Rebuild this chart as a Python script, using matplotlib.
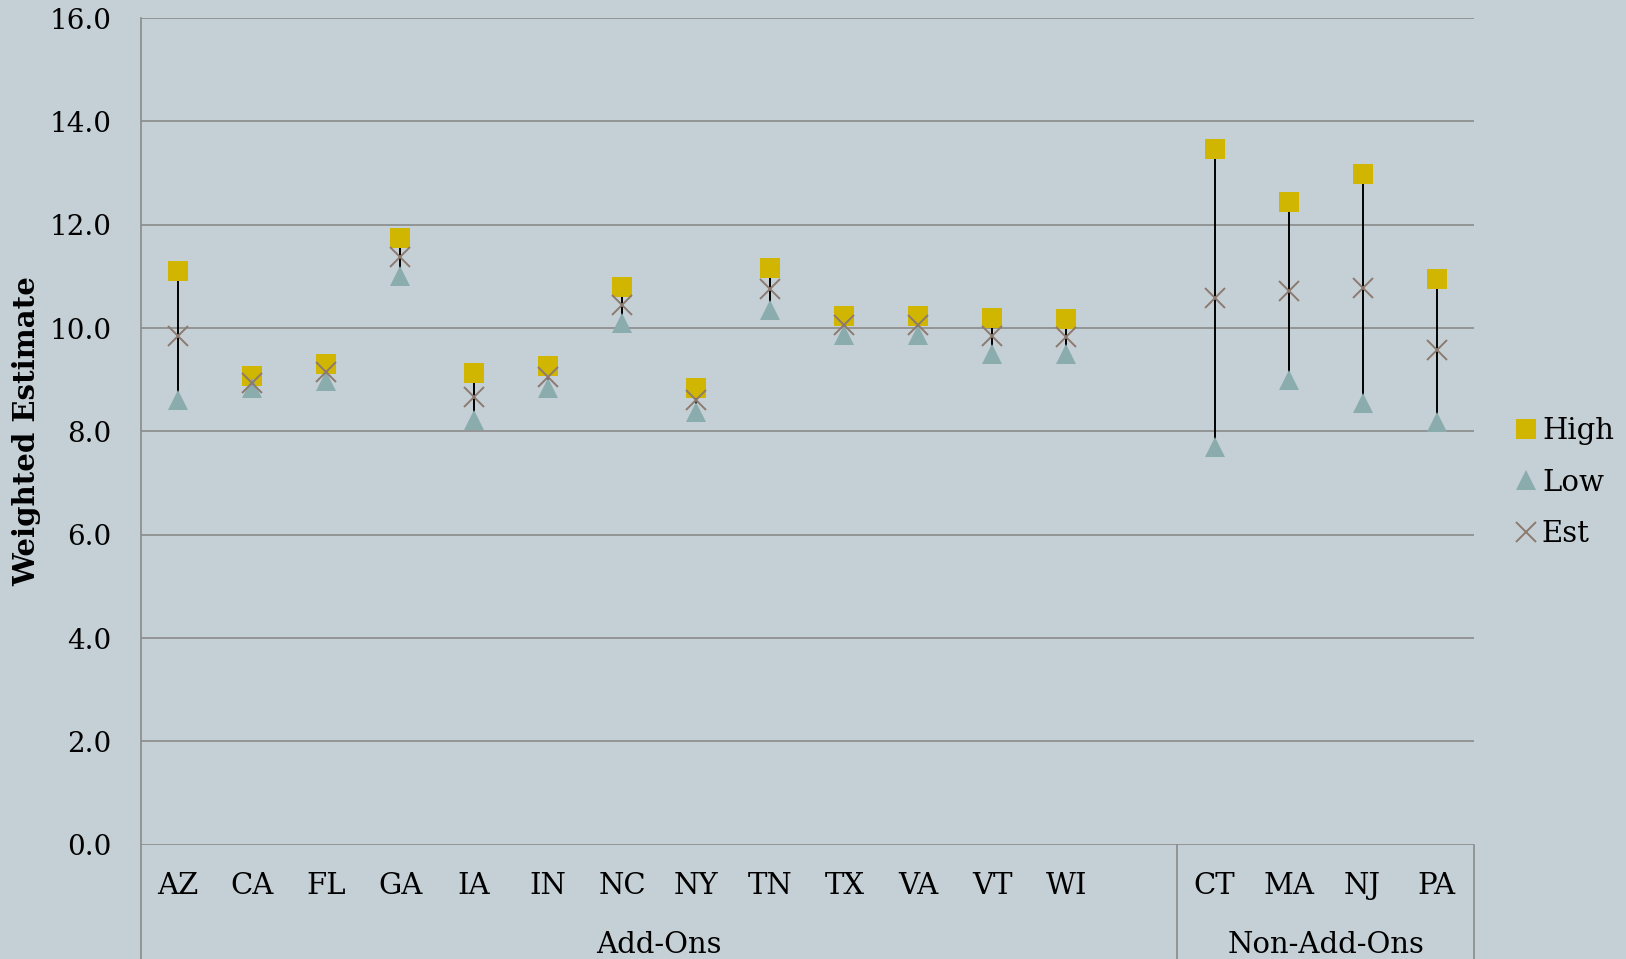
import matplotlib
matplotlib.use("Agg")
import matplotlib.pyplot as plt
import matplotlib.transforms as mtransforms
import numpy as np

# datos
estados_add = ["AZ", "CA", "FL", "GA", "IA", "IN", "NC", "NY", "TN", "TX", "VA", "VT", "WI"]
estados_non = ["CT", "MA", "NJ", "PA"]

high_add = [11.10, 9.07, 9.31, 11.74, 9.12, 9.26, 10.80, 8.84, 11.16, 10.24, 10.23, 10.19, 10.17]
low_add = [8.61, 8.83, 8.98, 11.00, 8.22, 8.83, 10.09, 8.37, 10.35, 9.86, 9.87, 9.49, 9.49]
est_add = [9.85, 8.94, 9.15, 11.38, 8.67, 9.06, 10.45, 8.61, 10.75, 10.06, 10.06, 9.85, 9.83]

high_non = [13.47, 12.44, 12.98, 10.94]
low_non = [7.69, 8.99, 8.55, 8.19]
est_non = [10.59, 10.72, 10.78, 9.57]

grupos = ["Add-Ons", "Non-Add-Ons"]
yticks = np.arange(0, 16.1, 2)

BG = "#c5d0d6"
GRID = "#8a8a8a"
C_HIGH = "#d0b600"
C_LOW = "#8aacad"
C_EST = "#8c7a70"
FS = 21

plt.rcParams["font.family"] = ["DejaVu Serif"]

# posiciones: 13 add-ons + hueco vacío + 4 non-add-ons
n_add = len(estados_add)
x_add = np.arange(n_add)
x_non = np.arange(len(estados_non)) + n_add + 1
x_all = np.concatenate([x_add, x_non])
etiquetas = estados_add + estados_non
high = np.array(high_add + high_non)
low = np.array(low_add + low_non)
est = np.array(est_add + est_non)

fig = plt.figure(figsize=(16.26, 9.59), dpi=100)
fig.patch.set_facecolor(BG)
ax = fig.add_axes([0.0867, 0.1192, 0.8196, 0.8620])
ax.set_facecolor(BG)

ax.vlines(x_all, low, high, color="black", linewidth=1.4, zorder=2)
ax.plot(x_all, high, linestyle="none", marker="s", markersize=14.9,
        color=C_HIGH, markeredgewidth=0, label="High", zorder=3)
ax.plot(x_all, low, linestyle="none", marker="^", markersize=14.6,
        color=C_LOW, markeredgewidth=0, label="Low", zorder=4)
ax.plot(x_all, est, linestyle="none", marker="x", markersize=14.0,
        color=C_EST, markeredgewidth=1.4, label="Est", zorder=5)

n_slots = len(x_all) + 1
ax.set_xlim(-0.5, n_slots - 0.5)
ax.set_ylim(0, 16)
ax.set_yticks(yticks)
ax.set_yticklabels([f"{v:.1f}" for v in yticks], fontsize=20)
ax.set_xticks(x_all)
ax.set_xticklabels(etiquetas, fontsize=FS)
ax.tick_params(axis="x", length=0, pad=20)
ax.tick_params(axis="y", length=0, pad=21)

ax.grid(axis="y", color=GRID, linewidth=1.2)
ax.set_axisbelow(True)
for s in ["top", "right", "bottom", "left"]:
    ax.spines[s].set_visible(False)

ax.set_ylabel("Weighted Estimate", fontsize=21, fontweight="bold")
ax.yaxis.set_label_coords(-0.075, 0.5)

# líneas de separación de la categoría multinivel
trans = mtransforms.blended_transform_factory(ax.transData, ax.transAxes)
sep = n_add + 0.5
ax.plot([-0.5, -0.5], [1, -0.2], transform=trans, color=GRID, linewidth=1.2, clip_on=False)
ax.plot([sep, sep], [0, -0.2], transform=trans, color=GRID, linewidth=1.2, clip_on=False)
ax.plot([n_slots - 0.5] * 2, [0, -0.2], transform=trans, color=GRID, linewidth=1.2, clip_on=False)

centros = [(-0.5 + sep) / 2, (sep + n_slots - 0.5) / 2]
for g, cx in zip(grupos, centros):
    ax.text(cx, -0.131, g, transform=trans, ha="center", va="baseline", fontsize=FS)

ax.legend(loc="center left", bbox_to_anchor=(1.030, 0.438), frameon=False,
          fontsize=FS, handlelength=0.85, handletextpad=0.12, labelspacing=0.81,
          borderpad=0, borderaxespad=0)

fig.savefig("out.png", dpi=100, facecolor=BG)
